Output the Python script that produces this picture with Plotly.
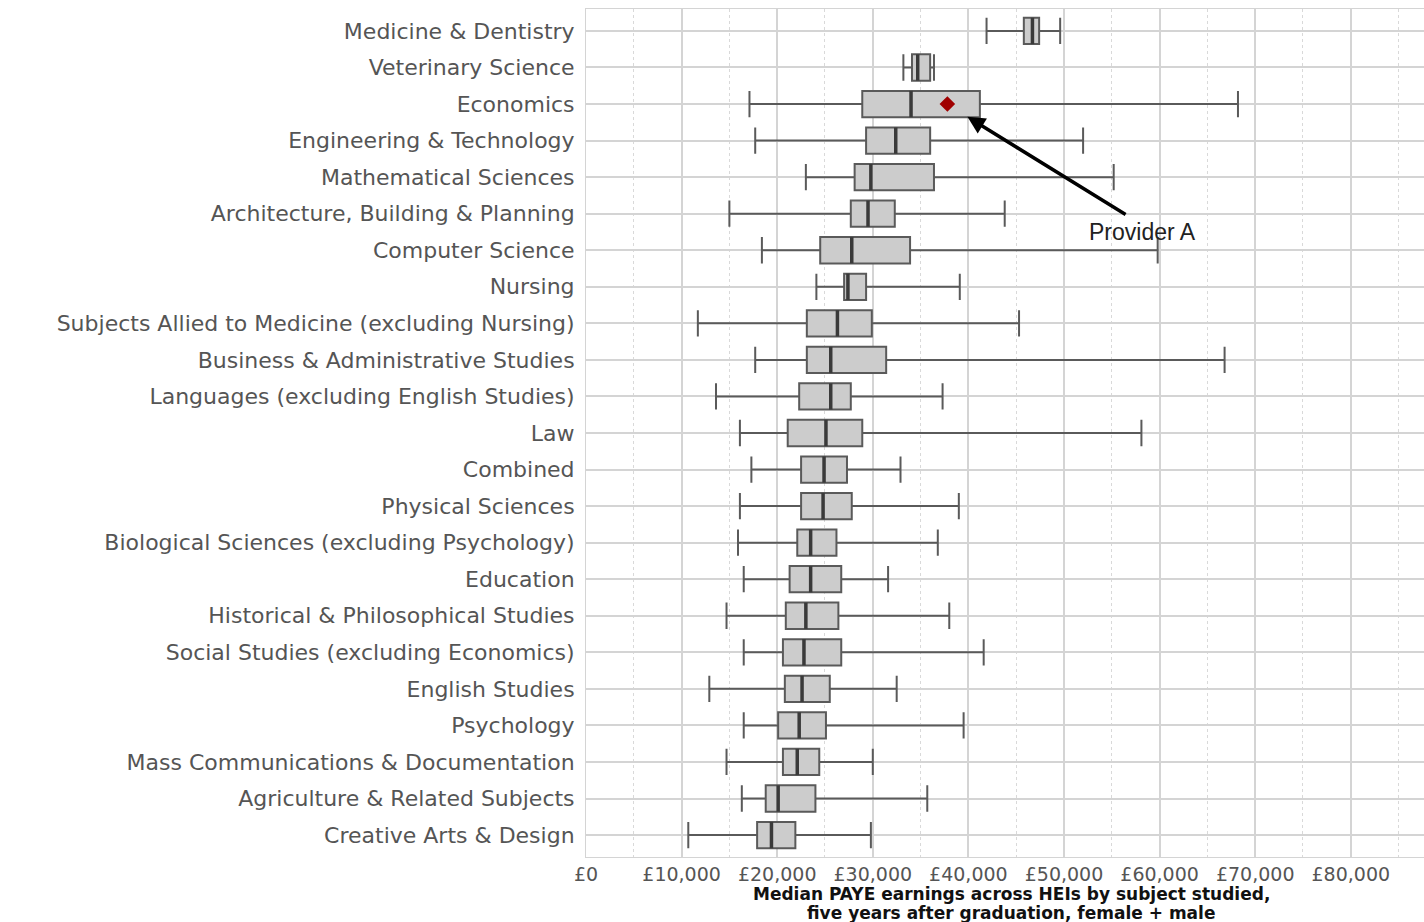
import plotly.graph_objects as go

subjects = [
    "Medicine & Dentistry", "Veterinary Science", "Economics", "Engineering & Technology",
    "Mathematical Sciences", "Architecture, Building & Planning", "Computer Science", "Nursing",
    "Subjects Allied to Medicine (excluding Nursing)", "Business & Administrative Studies",
    "Languages (excluding English Studies)", "Law", "Combined", "Physical Sciences",
    "Biological Sciences (excluding Psychology)", "Education", "Historical & Philosophical Studies",
    "Social Studies (excluding Economics)", "English Studies", "Psychology",
    "Mass Communications & Documentation", "Agriculture & Related Subjects", "Creative Arts & Design",
]
lower = [41900, 33200, 17100, 17700, 23000, 15000, 18400, 24100, 11700, 17700, 13600, 16100,
         17300, 16100, 15900, 16500, 14700, 16500, 12900, 16500, 14700, 16300, 10700]
q1 = [45800, 34100, 28900, 29300, 28100, 27700, 24500, 27000, 23100, 23100, 22300, 21100,
      22500, 22500, 22100, 21300, 20900, 20600, 20800, 20100, 20600, 18800, 17900]
median = [46700, 34700, 34000, 32400, 29800, 29500, 27800, 27400, 26300, 25600, 25600, 25100,
          24900, 24800, 23500, 23500, 23000, 22800, 22600, 22300, 22100, 20100, 19400]
q3 = [47400, 36000, 41200, 36000, 36400, 32300, 33900, 29300, 29900, 31400, 27700, 28900,
      27300, 27800, 26200, 26700, 26400, 26700, 25500, 25100, 24400, 24000, 21900]
upper = [49600, 36400, 68200, 52000, 55200, 43800, 59800, 39100, 45300, 66800, 37300, 58100,
         32900, 39000, 36800, 31600, 38000, 41600, 32500, 39500, 30000, 35700, 29800]

provider_subject = "Economics"
provider_value = 37800
provider_label = "Provider A"

xtick_vals = [0, 10000, 20000, 30000, 40000, 50000, 60000, 70000, 80000]
xtick_text = ["£0", "£10,000", "£20,000", "£30,000", "£40,000", "£50,000", "£60,000", "£70,000", "£80,000"]
x_title_lines = ["Median PAYE earnings across HEIs by subject studied,",
                 "five years after graduation, female + male"]

pos = list(range(len(subjects)))
half = 0.36

fig = go.Figure()
fig.add_trace(go.Box(
    y=pos, q1=q1, median=median, q3=q3, lowerfence=lower, upperfence=upper,
    orientation="h", width=2 * half, whiskerwidth=1,
    fillcolor="#cccccc", line=dict(color="#5a5a5a", width=2),
    boxpoints=False, hoverinfo="skip", showlegend=False,
))

# thicker median lines
mx, my = [], []
for i, m in enumerate(median):
    mx += [m, m, None]
    my += [i - half, i + half, None]
fig.add_trace(go.Scatter(x=mx, y=my, mode="lines", line=dict(color="#3a3a3a", width=3.5),
                         hoverinfo="skip", showlegend=False))

pi = subjects.index(provider_subject)
fig.add_trace(go.Scatter(x=[provider_value], y=[pi], mode="markers",
                         marker=dict(symbol="diamond", size=12, color="#a00000"),
                         hoverinfo="skip", showlegend=False))

# arrow to Provider A
fig.add_annotation(x=39900, y=pi + 0.35, ax=56600, ay=pi + 3.05, xref="x", yref="y",
                   axref="x", ayref="y", text="", showarrow=True, arrowhead=2,
                   arrowsize=1, arrowwidth=3.5, arrowcolor="#000000")
fig.add_annotation(x=58200, y=pi + 3.5, xref="x", yref="y", text=provider_label,
                   showarrow=False, font=dict(family="Liberation Sans, Arial", size=23, color="#222222"))

# x-axis title (two lines)
for k, line in enumerate(x_title_lines):
    fig.add_annotation(x=0.5, y=0, xref="paper", yref="paper", yanchor="middle",
                       yshift=-37 - 19 * k, xshift=6, text=line, showarrow=False,
                       font=dict(family="DejaVu Sans", size=17, color="#111111", weight="bold"))

fig.update_layout(
    width=1424, height=922,
    margin=dict(l=586, r=0, t=9, b=65, autoexpand=False),
    plot_bgcolor="white", paper_bgcolor="white",
    font=dict(family="DejaVu Sans", color="#4d4d4d"),
)
fig.update_xaxes(
    range=[0, 87660], tickvals=xtick_vals, ticktext=xtick_text,
    showgrid=True, gridcolor="#d4d4d4", gridwidth=1.5,
    minor=dict(dtick=5000, tick0=0, showgrid=True, gridcolor="#d9d9d9", griddash="dot", gridwidth=1),
    zeroline=False, showline=True, linecolor="#d4d4d4", mirror=True, automargin=False,
    tickfont=dict(size=19, color="#555555"), ticks="", ticklabelstandoff=0,
)
fig.update_yaxes(
    range=[len(subjects) - 0.4, -0.6], tickvals=pos, ticktext=subjects,
    showgrid=True, gridcolor="#d4d4d4", gridwidth=1.5, zeroline=False, automargin=False,
    showline=True, linecolor="#d4d4d4", mirror=True,
    tickfont=dict(size=22, color="#555555"), ticks="", ticklabelstandoff=6,
)

fig.write_html(
    "out.html",
    config={"displayModeBar": False},
    post_script="document.body.style.margin='0';document.body.style.overflow='hidden';"
                "document.documentElement.style.overflow='hidden';",
)
